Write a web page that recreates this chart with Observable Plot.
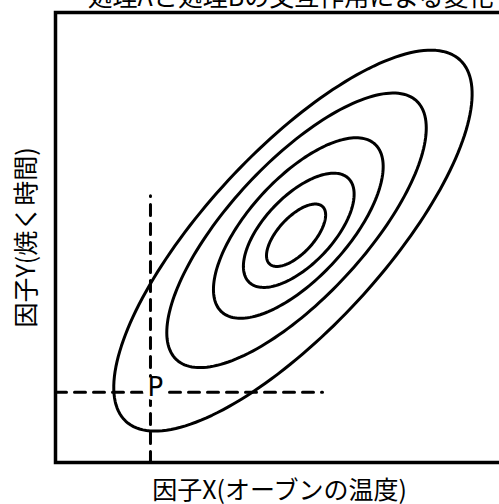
<!DOCTYPE html>
<html>
<head>
<meta charset="utf-8">
<script src="https://cdn.jsdelivr.net/npm/d3@7"></script>
<script src="https://cdn.jsdelivr.net/npm/@observablehq/plot@0.6"></script>
<style>
  html, body { margin: 0; padding: 0; background: #fff; overflow: hidden; }
  #chart svg { display: block; overflow: hidden; }
</style>
</head>
<body>
<div id="chart"></div>
<script>
// ---- data ----
const titleText = "処理Aと処理Bの交互作用による変化";
const xLabel = "因子X(オーブンの温度)";
const yLabel = "因子Y(焼く時間)";

// contour ellipses: centre, semi-axes (data units) and tilt (degrees)
const ellipseCx    = [5.37, 5.43, 5.42, 5.38, 5.30];
const ellipseCy    = [5.05, 5.16, 5.21, 5.16, 4.93];
const ellipseMajor = [0.87, 1.60, 2.53, 3.93, 5.48];
const ellipseMinor = [0.40, 0.76, 1.10, 1.50, 1.97];
const ellipseAngle = [47.2, 46.2, 47.4, 47.0, 47.1];

// point P and its guide lines
const pointLabel = ["P"];
const pointX = [2.12];
const pointY = [1.56];
const vGuideTop = 5.93;
const hGuideRight = 5.96;

// ---- build ellipse outlines ----
const ellipsePts = [];
ellipseCx.forEach((cx, i) => {
  const a = ellipseMajor[i], b = ellipseMinor[i];
  const th = ellipseAngle[i] * Math.PI / 180;
  for (let k = 0; k <= 360; k += 2) {
    const t = k * Math.PI / 180;
    ellipsePts.push({
      id: i,
      x: cx + a * Math.cos(t) * Math.cos(th) - b * Math.sin(t) * Math.sin(th),
      y: ellipseCy[i] + a * Math.cos(t) * Math.sin(th) + b * Math.sin(t) * Math.cos(th)
    });
  }
});

const hGuide = [{x: 0, y: pointY[0]}, {x: hGuideRight, y: pointY[0]}];
const vGuide = [{x: pointX[0], y: 0}, {x: pointX[0], y: vGuideTop}];
const pData = pointLabel.map((l, i) => ({label: l, x: pointX[i], y: pointY[i]}));

const font = "'Noto Sans CJK JP', 'Noto Sans', sans-serif";

const chart = Plot.plot({
  width: 499,
  height: 504,
  marginLeft: 55,
  marginTop: 12,
  marginBottom: 42,
  marginRight: -4,
  style: {fontFamily: font, background: "#fff"},
  x: {domain: [0, 10], axis: null},
  y: {domain: [0, 10], axis: null},
  marks: [
    Plot.line(hGuide, {x: "x", y: "y", stroke: "#000", strokeWidth: 3, strokeDasharray: "11,8"}),
    Plot.line(vGuide, {x: "x", y: "y", stroke: "#000", strokeWidth: 3, strokeDasharray: "11,8"}),
    Plot.dot(pData, {x: "x", y: "y", r: 12, fill: "#fff", stroke: "none", dx: 4, dy: -4}),
    Plot.text(pData, {x: "x", y: "y", text: "label", fontSize: 26, textAnchor: "start", lineAnchor: "middle", dx: -3, dy: -5, fill: "#000", fontFamily: "'DejaVu Sans', sans-serif"}),
    Plot.line(ellipsePts, {x: "x", y: "y", z: "id", stroke: "#000", strokeWidth: 3, curve: "linear"}),
    Plot.frame({stroke: "#000", strokeWidth: 3.5}),
    Plot.text([titleText], {frameAnchor: "top-left", dx: 32, dy: -7, textAnchor: "start", lineAnchor: "bottom", fontSize: 25, fill: "#000"}),
    Plot.text([xLabel], {frameAnchor: "bottom", dy: 28, textAnchor: "middle", lineAnchor: "middle", fontSize: 25, fill: "#000"}),
    Plot.text([yLabel], {frameAnchor: "left", dx: -29, rotate: -90, textAnchor: "middle", lineAnchor: "middle", fontSize: 25, fill: "#000"})
  ]
});
document.getElementById("chart").appendChild(chart);
</script>
</body>
</html>
